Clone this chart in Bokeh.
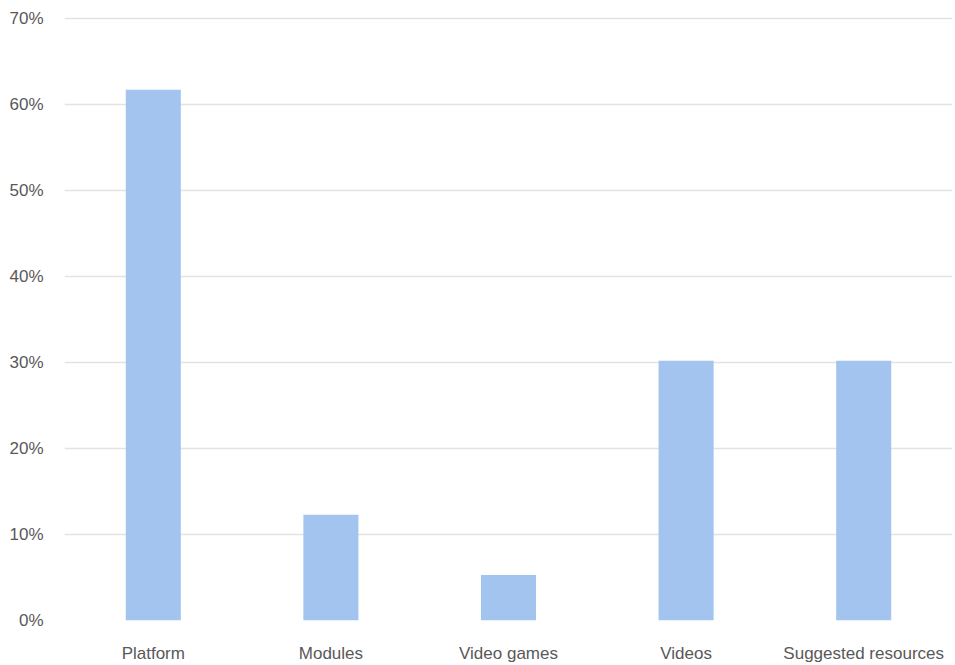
from bokeh.plotting import figure
from bokeh.models import ColumnDataSource, FixedTicker, PrintfTickFormatter, Range1d
from bokeh.embed import file_html
from bokeh.resources import INLINE

categories = ["Platform", "Modules", "Video games", "Videos", "Suggested resources"]
shares = [61.7, 12.3, 5.3, 30.2, 30.2]  # percent of respondents
y_ticks = [0, 10, 20, 30, 40, 50, 60, 70]

source = ColumnDataSource(data=dict(cat=categories, share=shares))

p = figure(
    x_range=categories,
    y_range=Range1d(0, 70.2),
    width=955,
    height=665,
    output_backend="svg",
    toolbar_location=None,
    min_border_left=64,
    min_border_right=3,
    min_border_top=16,
    min_border_bottom=42,
)

p.vbar(x="cat", top="share", width=0.31, source=source,
       fill_color="#A3C4EF", line_color=None)

font = "Liberation Sans"
label_color = "#595959"

p.yaxis.ticker = FixedTicker(ticks=y_ticks)
p.yaxis.formatter = PrintfTickFormatter(format="%d%%")
p.yaxis.axis_line_color = None
p.yaxis.major_tick_line_color = None
p.yaxis.minor_tick_line_color = None
p.yaxis.major_label_text_font = font
p.yaxis.major_label_text_font_size = "17px"
p.yaxis.major_label_text_color = label_color
p.yaxis.major_label_standoff = 15

p.xaxis.axis_line_color = None
p.xaxis.major_tick_line_color = None
p.xaxis.minor_tick_line_color = None
p.xaxis.major_label_text_font = font
p.xaxis.major_label_text_font_size = "17px"
p.xaxis.major_label_text_color = label_color
p.xaxis.major_label_standoff = 17

p.xgrid.grid_line_color = None
p.ygrid.ticker = FixedTicker(ticks=y_ticks)
p.ygrid.grid_line_color = "#E3E3E3"
p.ygrid.grid_line_width = 1.5
p.outline_line_color = None
p.background_fill_color = "white"
p.border_fill_color = "white"

open("out.html", "w").write(file_html(p, INLINE))
